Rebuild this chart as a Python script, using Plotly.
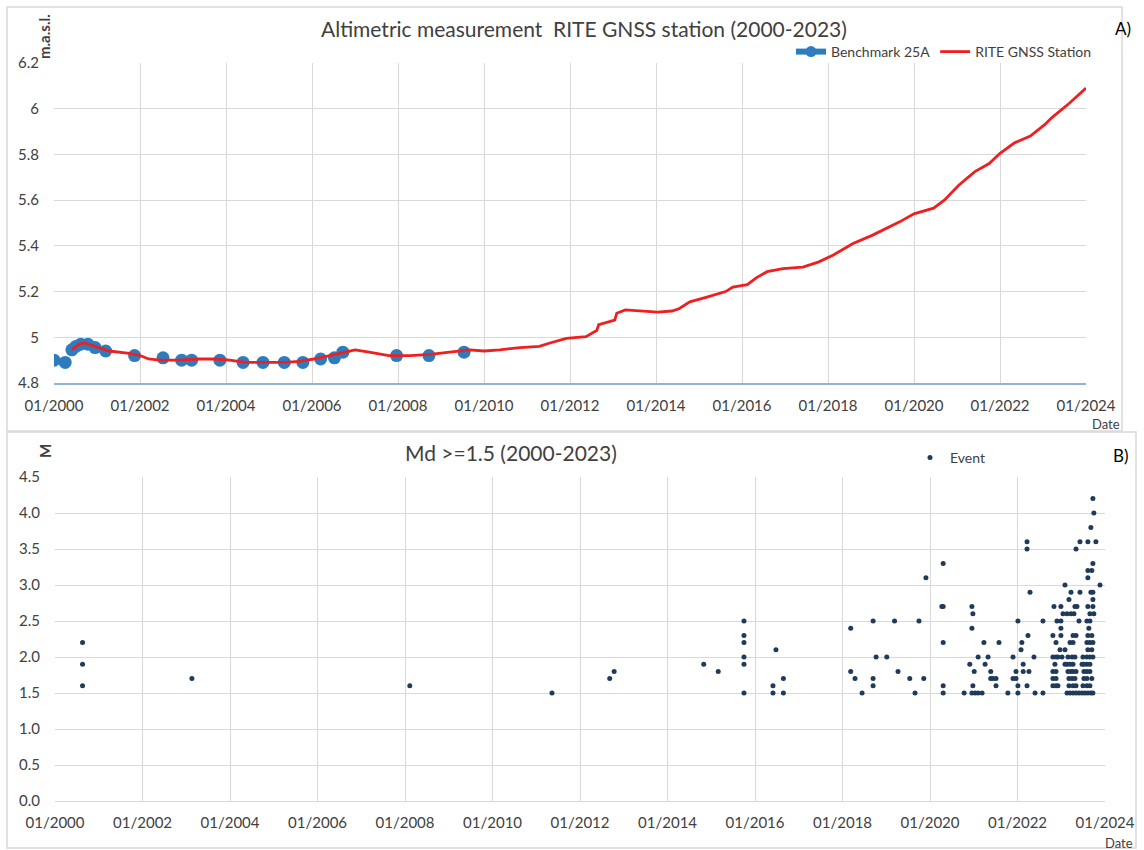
import plotly.graph_objects as go

# ---------------- data ----------------
# Benchmark 25A levelling measurements (m a.s.l.)
bench_dates = ["2000-01-01", "2000-04-05", "2000-06-01", "2000-07-05", "2000-08-15",
               "2000-10-15", "2000-12-15", "2001-03-15", "2001-11-15", "2002-07-15",
               "2002-12-20", "2003-03-15", "2003-11-10", "2004-05-25", "2004-11-10",
               "2005-05-10", "2005-10-15", "2006-03-15", "2006-07-10", "2006-09-20",
               "2007-12-20", "2008-09-20", "2009-07-15"]
bench_vals = [4.90, 4.89, 4.945, 4.96, 4.97,
              4.97, 4.955, 4.94, 4.92, 4.91,
              4.90, 4.90, 4.90, 4.89, 4.89,
              4.89, 4.89, 4.905, 4.91, 4.935,
              4.92, 4.92, 4.935]

# RITE GNSS station height (m a.s.l.)
gnss_dates = ["2000-06-01", "2000-08-01", "2000-09-15", "2001-01-15", "2001-04-15",
              "2001-10-01", "2002-01-01", "2002-03-15", "2002-06-15", "2002-12-01",
              "2003-05-15", "2003-10-01", "2004-02-01", "2004-06-15", "2004-12-01",
              "2005-05-15", "2005-09-15", "2006-01-15", "2006-06-01", "2006-10-01",
              "2007-01-01", "2007-05-01", "2007-10-15", "2008-04-15", "2008-10-01",
              "2009-03-15", "2009-09-01", "2010-01-01", "2010-05-15", "2010-11-01",
              "2011-04-15", "2011-07-15", "2011-12-01", "2012-05-15", "2012-08-15",
              "2012-09-01", "2012-12-15", "2013-01-15", "2013-02-01", "2013-04-15",
              "2014-01-15", "2014-05-15", "2014-07-15", "2014-10-15", "2015-03-01",
              "2015-08-15", "2015-10-15", "2016-02-15", "2016-05-01", "2016-08-01",
              "2016-12-15", "2017-06-01", "2017-10-15", "2018-02-15", "2018-08-01",
              "2019-01-15", "2019-09-01", "2020-01-01", "2020-06-15", "2020-09-15",
              "2021-01-15", "2021-06-01", "2021-10-01", "2022-01-01", "2022-05-01",
              "2022-09-15", "2023-01-15", "2023-03-15", "2023-08-15", "2023-11-15",
              "2024-01-01"]
gnss_vals = [4.945, 4.97, 4.975, 4.955, 4.94,
             4.93, 4.92, 4.905, 4.90, 4.90,
             4.905, 4.905, 4.90, 4.89, 4.89,
             4.89, 4.895, 4.905, 4.92, 4.935,
             4.945, 4.935, 4.92, 4.92, 4.925,
             4.935, 4.945, 4.94, 4.945, 4.955,
             4.96, 4.975, 4.995, 5.003, 5.03,
             5.055, 5.068, 5.075, 5.105, 5.12,
             5.11, 5.115, 5.125, 5.155, 5.175,
             5.20, 5.22, 5.23, 5.26, 5.287,
             5.30, 5.307, 5.33, 5.36, 5.41,
             5.447, 5.505, 5.54, 5.565, 5.60,
             5.665, 5.725, 5.76, 5.805, 5.85,
             5.88, 5.93, 5.96, 6.025, 6.07,
             6.09]

# Seismic events Md >= 1.5
event_dates = [
    "2000-08-18", "2000-08-18", "2000-08-18", "2003-02-17", "2008-02-10",
    "2011-05-12", "2012-09-05", "2012-10-12", "2014-10-30", "2015-02-28",
    "2015-10-01", "2015-10-01", "2015-10-01", "2015-10-01", "2015-10-01", "2015-10-01",
    "2016-05-30", "2016-05-30", "2016-06-24", "2016-08-25", "2016-08-25",
    "2018-03-10", "2018-03-10", "2018-04-15", "2018-06-13",
    "2018-09-13", "2018-09-13", "2018-09-13", "2018-10-08", "2019-01-05",
    "2019-03-11", "2019-04-09", "2019-07-16", "2019-08-29", "2019-10-01",
    "2019-11-10", "2019-11-28", "2020-04-09",
    "2020-04-20", "2020-04-20", "2020-04-20", "2020-04-20", "2020-04-20",
    "2020-10-12", "2020-11-28", "2020-12-16", "2020-12-16", "2020-12-16",
    "2020-12-24", "2020-12-24", "2021-01-04", "2021-01-12", "2021-02-06", "2021-02-06",
    "2021-03-11", "2021-03-26", "2021-04-05", "2021-04-30", "2021-05-22", "2021-05-22",
    "2021-06-09", "2021-07-05", "2021-07-05", "2021-07-30", "2021-10-12",
    "2021-11-24", "2021-11-24", "2021-12-19", "2021-12-19",
    "2022-01-04", "2022-01-04", "2022-01-04", "2022-01-30", "2022-02-06",
    "2022-02-17", "2022-02-17", "2022-03-21", "2022-03-21", "2022-03-21",
    "2022-03-29", "2022-04-06", "2022-04-15", "2022-05-18", "2022-05-27",
    "2022-08-01", "2022-08-01",
    # M 1.5
    "2023-02-18", "2023-03-15", "2023-04-09", "2023-05-04", "2023-05-29",
    "2023-06-23", "2023-07-17", "2023-08-11", "2023-09-05", "2023-09-22",
    # M 1.6
    "2022-10-23", "2022-11-18", "2022-12-04", "2023-03-06", "2023-04-09",
    "2023-05-04", "2023-07-01", "2023-08-03", "2023-08-28",
    # M 1.7
    "2022-10-23", "2022-11-18", "2023-03-06", "2023-04-01", "2023-04-25",
    "2023-07-09", "2023-08-03", "2023-09-13",
    # M 1.8
    "2022-10-23", "2022-11-18", "2023-02-26", "2023-03-23", "2023-04-09",
    "2023-05-04", "2023-07-09", "2023-08-03", "2023-08-28",
    # M 1.9
    "2022-11-09", "2023-02-01", "2023-02-18", "2023-03-15", "2023-04-09",
    "2023-06-23", "2023-07-09", "2023-08-03", "2023-08-28",
    # M 2.0
    "2022-10-23", "2022-11-18", "2022-12-04", "2023-01-07", "2023-02-26",
    "2023-04-01", "2023-04-25", "2023-07-01", "2023-08-03", "2023-08-28", "2023-09-22",
    # M 2.1
    "2022-12-21", "2023-02-01", "2023-08-11", "2023-09-13",
    # M 2.2
    "2022-11-18", "2023-03-15", "2023-04-09", "2023-08-03", "2023-08-28", "2023-09-22",
    # M 2.3
    "2022-10-23", "2022-12-29", "2023-04-09", "2023-05-04", "2023-08-11", "2023-09-13",
    # M 2.4
    "2022-12-29", "2023-08-19",
    # M 2.5
    "2022-11-26", "2022-12-29", "2023-05-29", "2023-08-03", "2023-08-28",
    # M 2.6
    "2023-01-15", "2023-02-18", "2023-03-23", "2023-04-17", "2023-08-28", "2023-09-30",
    # M 2.7
    "2022-11-01", "2022-12-29", "2023-04-25", "2023-05-12", "2023-08-11", "2023-09-22",
    # M 2.8 - 4.2
    "2023-03-06", "2023-09-22",
    "2023-03-23", "2023-06-06", "2023-09-05", "2023-09-22",
    "2023-02-01", "2023-11-20",
    "2023-08-11",
    "2023-08-11", "2023-09-13",
    "2023-09-22",
    "2023-05-04",
    "2023-06-06", "2023-08-11", "2023-10-17",
    "2023-09-05",
    "2023-09-30",
    "2023-09-22",
]
event_mag = [
    2.2, 1.9, 1.6, 1.7, 1.6,
    1.5, 1.7, 1.8, 1.9, 1.8,
    2.5, 2.3, 2.2, 2.0, 1.9, 1.5,
    1.6, 1.5, 2.1, 1.7, 1.5,
    2.4, 1.8, 1.7, 1.5,
    2.5, 1.7, 1.6, 2.0, 2.0,
    2.5, 1.8, 1.7, 1.5, 2.5,
    1.7, 3.1, 2.7,
    3.3, 2.7, 2.2, 1.6, 1.5,
    1.5, 1.9, 2.7, 2.4, 1.5,
    2.6, 1.6, 1.8, 1.5, 2.0, 1.5,
    1.5, 2.2, 1.9, 2.0, 1.8, 1.7,
    1.7, 1.7, 1.6, 2.2, 1.5,
    2.0, 1.7, 1.8, 1.7,
    2.5, 1.6, 1.5, 2.1, 2.2,
    1.9, 1.8, 3.6, 3.5, 1.6,
    2.3, 1.8, 2.9, 2.0, 1.5,
    2.5, 1.5,
    1.5, 1.5, 1.5, 1.5, 1.5, 1.5, 1.5, 1.5, 1.5, 1.5,
    1.6, 1.6, 1.6, 1.6, 1.6, 1.6, 1.6, 1.6, 1.6,
    1.7, 1.7, 1.7, 1.7, 1.7, 1.7, 1.7, 1.7,
    1.8, 1.8, 1.8, 1.8, 1.8, 1.8, 1.8, 1.8, 1.8,
    1.9, 1.9, 1.9, 1.9, 1.9, 1.9, 1.9, 1.9, 1.9,
    2.0, 2.0, 2.0, 2.0, 2.0, 2.0, 2.0, 2.0, 2.0, 2.0, 2.0,
    2.1, 2.1, 2.1, 2.1,
    2.2, 2.2, 2.2, 2.2, 2.2, 2.2,
    2.3, 2.3, 2.3, 2.3, 2.3, 2.3,
    2.4, 2.4,
    2.5, 2.5, 2.5, 2.5, 2.5,
    2.6, 2.6, 2.6, 2.6, 2.6, 2.6,
    2.7, 2.7, 2.7, 2.7, 2.7, 2.7,
    2.8, 2.8,
    2.9, 2.9, 2.9, 2.9,
    3.0, 3.0,
    3.1,
    3.2, 3.2,
    3.3,
    3.5,
    3.6, 3.6, 3.6,
    3.8,
    4.0,
    4.2,
]

# ---------------- figure ----------------
W, H = 1144, 850
FONT = "Lato, Carlito, Calibri, sans-serif"
TXT = "#404040"
GRID = "#d9d9d9"


def fx(px):
    return px / W


def fy(py):
    return 1 - py / H


fig = go.Figure()

fig.add_trace(go.Scatter(x=bench_dates, y=bench_vals, mode="markers",
                         marker=dict(size=13, color="#2E7CC0"),
                         showlegend=False, xaxis="x", yaxis="y"))
fig.add_trace(go.Scatter(x=[None], y=[None], mode="lines+markers", name="Benchmark 25A",
                         line=dict(color="#2E7CC0", width=6),
                         marker=dict(size=11, color="#2E7CC0"),
                         legend="legend", xaxis="x", yaxis="y"))
fig.add_trace(go.Scatter(x=gnss_dates, y=gnss_vals, mode="lines", name="RITE GNSS Station",
                         line=dict(color="#F01F1F", width=2.8),
                         legend="legend", xaxis="x", yaxis="y"))
fig.add_trace(go.Scatter(x=event_dates, y=event_mag, mode="markers", name="Event",
                         marker=dict(size=5, color="#1F3A5A"),
                         legend="legend2", xaxis="x2", yaxis="y2"))

date_axis = dict(type="date", range=["2000-01-01", "2024-01-01"], tick0="2000-01-01",
                 dtick="M24", tickformat="%m/%Y", showgrid=True, gridcolor=GRID, gridwidth=1,
                 ticks="", tickfont=dict(family=FONT, size=15, color=TXT),
                 ticklabelstandoff=8, zeroline=False, automargin=False)

fig.update_layout(
    width=W, height=H,
    margin=dict(l=0, r=0, t=0, b=0, autoexpand=False),
    paper_bgcolor="white", plot_bgcolor="white",
    font=dict(family=FONT, color=TXT),
    xaxis=dict(date_axis, domain=[fx(54), fx(1086)], anchor="y",
               showline=True, linecolor="#8FB3DD", linewidth=1.5),
    yaxis=dict(range=[4.8, 6.2], dtick=0.2, domain=[fy(383), fy(63)], anchor="x",
               showgrid=True, gridcolor=GRID, zeroline=False, ticks="", automargin=False,
               ticklabelstandoff=14, tickfont=dict(family=FONT, size=15, color=TXT)),
    xaxis2=dict(date_axis, domain=[fx(55), fx(1105)], anchor="y2",
                showline=True, linecolor=GRID, linewidth=1),
    yaxis2=dict(range=[0, 4.5], dtick=0.5, tickformat=".1f", domain=[fy(801), fy(477)],
                anchor="x2", showgrid=True, gridcolor=GRID, zeroline=False, ticks="",
                automargin=False,
                ticklabelstandoff=14, tickfont=dict(family=FONT, size=15, color=TXT)),
    legend=dict(orientation="h", x=fx(1097), xanchor="right", y=fy(52), yanchor="middle",
                font=dict(family=FONT, size=14, color=TXT), bgcolor="rgba(0,0,0,0)",
                itemwidth=30),
    legend2=dict(orientation="h", x=fx(910), xanchor="left", y=fy(458), yanchor="middle",
                 font=dict(family=FONT, size=14, color=TXT), bgcolor="rgba(0,0,0,0)"),
    showlegend=True,
)

annots = [
    dict(text="Altimetric measurement  RITE GNSS station (2000-2023)", x=fx(584), y=fy(28),
         font=dict(size=21)),
    dict(text="Md >=1.5 (2000-2023)", x=fx(511), y=fy(452), font=dict(size=21)),
    dict(text="A)", x=fx(1123), y=fy(28), font=dict(size=17, color="#000000")),
    dict(text="B)", x=fx(1121), y=fy(455), font=dict(size=17, color="#000000")),
    dict(text="<b>m.a.s.l.</b>", x=fx(44), y=fy(37), textangle=-90, font=dict(size=15)),
    dict(text="<b>M</b>", x=fx(45), y=fy(451), textangle=-90, font=dict(size=15)),
    dict(text="Date", x=fx(1106), y=fy(424), font=dict(size=13)),
    dict(text="Date", x=fx(1119), y=fy(843), font=dict(size=13)),
]
for a in annots:
    a.setdefault("font", {})
    a["font"].setdefault("color", TXT)
    a["font"]["family"] = FONT
    fig.add_annotation(xref="paper", yref="paper", showarrow=False,
                       xanchor="center", yanchor="middle", **a)

fig.add_shape(type="rect", xref="paper", yref="paper", x0=fx(7), x1=fx(1122),
              y0=fy(431), y1=fy(7), line=dict(color=GRID, width=1.5), layer="below")
fig.add_shape(type="rect", xref="paper", yref="paper", x0=fx(7), x1=fx(1136),
              y0=fy(848), y1=fy(432), line=dict(color=GRID, width=1.5), layer="below")

fig.write_html("out.html", config={"displayModeBar": False},
               post_script="document.body.style.margin='0';")
